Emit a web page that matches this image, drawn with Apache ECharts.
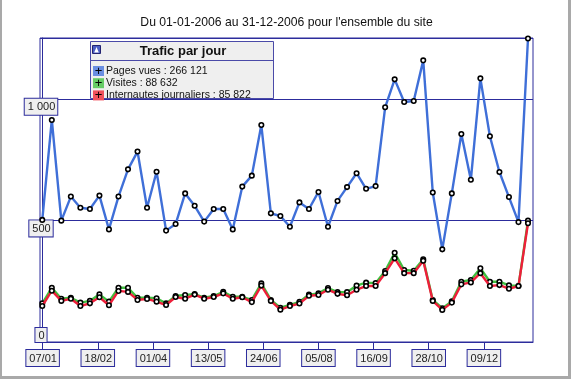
<!DOCTYPE html>
<html><head><meta charset="utf-8">
<script src="https://cdn.jsdelivr.net/npm/echarts@6/dist/echarts.min.js"></script>
<style>
html,body{margin:0;padding:0;background:#fff;}
#c{position:absolute;left:0;top:0;width:573px;height:381px;}
#frame{position:absolute;left:0;top:0;width:566px;height:376px;border-left:2px solid #a9a9a9;border-right:3px solid #a9a9a9;border-bottom:3px solid #a9a9a9;pointer-events:none;}
</style></head>
<body><div id="c"></div><div id="frame"></div>
<script>
// ---- data ----
const titleText = "Du 01-01-2006 au 31-12-2006 pour l'ensemble du site";
const legendTitle = "Trafic par jour";
const seriesNames = ["Pages vues", "Visites", "Internautes journaliers"];
const totals = [266121, 88632, 85822];
const pagesVues = [502, 913, 499, 598, 552, 547, 602, 463, 598, 710, 783, 552, 700, 458, 485, 611, 560, 495, 547, 547, 463, 639, 684, 892, 529, 518, 474, 574, 547, 617, 474, 580, 637, 694, 630, 641, 965, 1080, 987, 991, 1158, 615, 381, 611, 855, 667, 1084, 846, 699, 596, 493, 1248];
const visites = [159, 223, 178, 182, 162, 169, 196, 166, 223, 223, 182, 182, 180, 159, 189, 193, 197, 182, 189, 206, 186, 186, 173, 241, 173, 141, 153, 165, 195, 200, 222, 205, 205, 232, 244, 242, 292, 367, 296, 293, 340, 173, 139, 167, 248, 255, 303, 248, 248, 233, 230, 499];
const internautes = [148, 211, 169, 178, 148, 159, 184, 151, 210, 206, 173, 177, 166, 152, 185, 178, 195, 178, 185, 200, 178, 184, 164, 232, 169, 133, 148, 158, 190, 193, 215, 198, 192, 215, 230, 230, 283, 344, 283, 283, 334, 169, 132, 162, 237, 245, 283, 230, 234, 219, 230, 488];
const xTickLabels = ["07/01", "18/02", "01/04", "13/05", "24/06", "05/08", "16/09", "28/10", "09/12"];
const yTickLabels = [0, 500, 1000];

// ---- helpers ----
function dayOfYear(lbl){
  const [d,m] = lbl.split('/').map(Number);
  return Math.round((Date.UTC(2006,m-1,d) - Date.UTC(2006,0,1))/86400000);
}
const tickDays = xTickLabels.map(dayOfYear);
function frNum(n){ return String(n).replace(/\B(?=(\d{3})+(?!\d))/g,' '); }

const lineColors = ['#3f6fd8', '#3fbf3f', '#ee1f3a'];
const boxColors = ['#6a8ee2', '#66cc66', '#f0505c'];
const axisCol = '#2c2c9c';
const FONT = '"Liberation Sans", Arial, sans-serif';

const allSeries = [pagesVues, visites, internautes];
const chart = echarts.init(document.getElementById('c'), null, {renderer:'canvas'});

const richLegend = {t:{fontSize:10.5, fontFamily:FONT, color:'#111', padding:[0,0,0,2], lineHeight:11}};
boxColors.forEach((c,i)=>{ richLegend['s'+i] = {backgroundColor:c, width:11, height:10, align:'center', color:'#000', fontSize:13, fontFamily:FONT, lineHeight:10}; });

const boxLabel = {backgroundColor:'#efefef', borderColor:axisCol, borderWidth:1, padding:[3,2,2,3], fontSize:11, fontFamily:FONT, color:'#222'};

chart.setOption({
  animation:false,
  backgroundColor:'#ffffff',
  title:{text:titleText, left:'center', top:12, textStyle:{fontSize:12.2, fontWeight:'normal', fontFamily:FONT, color:'#111'}},
  grid:{left:40, right:40, top:38, bottom:39, show:true, borderColor:axisCol, borderWidth:1, backgroundColor:'transparent'},
  xAxis:[
    {type:'value', min:-0.24, max:51.525, show:false},
    {type:'value', min:4, max:379.4, position:'bottom',
     axisLine:{show:true, lineStyle:{color:axisCol, width:1}},
     axisTick:{show:true, length:8, customValues:tickDays, lineStyle:{color:axisCol}},
     splitLine:{show:false},
     axisLabel:Object.assign({customValues:tickDays, margin:8, formatter:(v)=>{const k=tickDays.indexOf(Math.round(v)); return k>=0?xTickLabels[k]:'';}}, boxLabel)}
  ],
  yAxis:[
    {type:'value', min:0, max:1250, interval:500, position:'left',
     axisLine:{show:true, lineStyle:{color:axisCol}},
     axisTick:{show:false},
     splitLine:{show:true, lineStyle:{color:axisCol, width:1}},
     axisLabel:Object.assign({showMinLabel:false, showMaxLabel:false, align:'center', verticalAlign:'top', margin:-1,
       formatter:(v)=> yTickLabels.includes(v) ? frNum(v) : ''}, boxLabel)},
    {type:'value', min:0, max:1250, interval:1250, position:'left',
     axisLine:{show:false}, axisTick:{show:false}, splitLine:{show:false},
     axisLabel:Object.assign({showMaxLabel:false, align:'center', verticalAlign:'bottom', margin:-1,
       formatter:(v)=> yTickLabels.includes(v) ? frNum(v) : ''}, boxLabel, {padding:[2,2,1,3]})}
  ],
  legend:{
    orient:'vertical', left:87, top:64.5, padding:0, itemGap:-0.8, itemWidth:0, itemHeight:0, icon:'rect', z:20,
    data:seriesNames,
    formatter:(name)=>{const i=seriesNames.indexOf(name); return '{s'+i+'|+}{t|'+name+' : '+frNum(totals[i])+'}';},
    textStyle:{rich:richLegend, padding:0, lineHeight:10}
  },
  graphic:[
    {type:'rect', z:10, shape:{x:90.5, y:41.5, width:183, height:57}, style:{fill:'#efefef', stroke:'#4a4aa8', lineWidth:1}},
    {type:'line', z:11, shape:{x1:90.5, y1:60.5, x2:273.5, y2:60.5}, style:{stroke:'#4a4aa8', lineWidth:1}},
    {type:'rect', z:11, shape:{x:92.5, y:45.5, width:8, height:8}, style:{fill:'#4b5ec4', stroke:'#232370', lineWidth:1}},
    {type:'polygon', z:12, shape:{points:[[94.2,52.5],[96.5,47],[98.8,52.5]]}, style:{fill:'#ffffff'}},
    {type:'text', z:12, x:183, y:51, style:{text:legendTitle, fontSize:13, fontWeight:'bold', fontFamily:FONT, fill:'#111', align:'center', verticalAlign:'middle'}}
  ],
  series: allSeries.map((arr,i)=>({
    name:seriesNames[i], type:'line', xAxisIndex:0, yAxisIndex:0,
    data: arr.map((v,k)=>[k,v]),
    symbol:'circle', symbolSize:4.5, showAllSymbol:true,
    lineStyle:{color:lineColors[i], width:2.4},
    itemStyle:{color:'#ffffff', borderColor:'#000', borderWidth:1.6},
    z:3+i
  }))
});
</script>
</body></html>
